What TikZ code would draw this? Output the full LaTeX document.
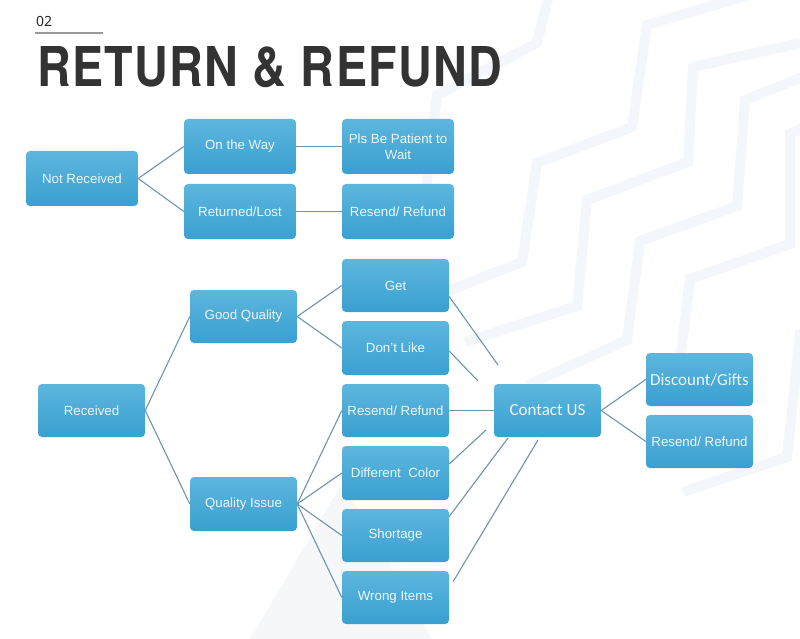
\documentclass[tikz,border=0pt]{standalone}
\usepackage{fontspec}
\usepackage{graphicx}
\setmainfont{Liberation Sans}
\newfontfamily\numfont{Noto Sans}
\newfontfamily\titlefont{TeX Gyre Heros}[LetterSpace=3]
\newfontfamily\calfont{Carlito}
\definecolor{boxtop}{HTML}{5DB6DE}
\definecolor{boxbot}{HTML}{39A0D0}
\definecolor{boxtext}{HTML}{EEF7FC}
\definecolor{edgecol}{HTML}{6F94AD}
\definecolor{bandcol}{HTML}{F3F6FA}
\definecolor{tricol}{HTML}{F6F7F9}
\definecolor{titlecol}{HTML}{333333}
\tikzset{
  box/.style={rounded corners=4pt, top color=boxtop, bottom color=boxbot,
    text=boxtext, font=\fontsize{13.3}{16}\selectfont, align=center,
    minimum width=107pt, minimum height=53pt, inner sep=1pt, draw=none},
  wide/.style={minimum width=112pt, minimum height=55pt},
  big/.style={font=\calfont\fontsize{17}{20}\selectfont},
  conn/.style={draw=edgecol, line width=1.1pt},
  band/.style={draw=bandcol, line width=10pt, line join=miter},
}
\begin{document}
\begin{tikzpicture}[x=1pt,y=-1pt]
\fill[white] (0,0) rectangle (800,639);
\useasboundingbox (0,0) rectangle (800,639);
% background decoration
\begin{scope}
\clip (0,0) rectangle (800,639);
\fill[tricol] (343,482) -- (432,639) -- (250,639) -- cycle;
\draw[band] (549,-5) -- (537,43) -- (437,95) -- (425,200);
\draw[band] (800,-20) -- (647,25) -- (632,127) -- (537,163) -- (522,262) -- (430,298);
\draw[band] (800,43) -- (693,67) -- (688,162) -- (587,200) -- (577,306) -- (465,342);
\draw[band] (810,74) -- (745,100) -- (737,206) -- (640,241) -- (627,340) -- (528,385);
\draw[band] (810,124) -- (790,134) -- (790,244) -- (690,279) -- (677,385) -- (660,392);
\draw[band] (810,330) -- (800,334) -- (787,457) -- (683,492);
\end{scope}
% header
\node[anchor=base west, inner sep=0pt, font=\numfont\fontsize{14}{16}\selectfont, text=black!85] (num) at (36,27) {02};
\coordinate (ulA) at (35,33);
\coordinate (ulB) at (103,33);
\draw[draw=black!40, line width=2pt] (ulA) -- (ulB);
\node[anchor=south west, inner sep=0pt, text=titlecol] (title) at (37,88)
  {\resizebox{465pt}{40pt}{\titlefont\bfseries RETURN \& REFUND}};
% top group
\node[box,wide] (nr) at (82,178.5) {Not Received};
\node[box,wide] (otw) at (240,146.5) {On the Way};
\node[box,wide] (rl) at (240,211.5) {Returned/Lost};
\node[box,wide] (pls) at (398,146.5) {Pls Be Patient to\\Wait};
\node[box,wide] (rr1) at (398,211.5) {Resend/ Refund};
% lower group
\node[box] (rec) at (91.5,410.5) {Received};
\node[box] (gq) at (243.5,316.5) {Good Quality};
\node[box, minimum height=54pt] (qi) at (243.5,504) {Quality Issue};
\node[box] (get) at (395.5,285.5) {Get};
\node[box, minimum height=54pt] (dl) at (395.5,348) {Don't Like};
\node[box] (rr2) at (395.5,410.5) {Resend/ Refund};
\node[box, minimum height=54pt] (dc) at (395.5,473) {Different\ \ Color};
\node[box] (sh) at (395.5,535.5) {Shortage};
\node[box] (wi) at (395.5,597.5) {Wrong Items};
\node[box,big] (ct) at (547.5,410.5) {Contact US};
\node[box,big] (dg) at (699.5,379.5) {Discount/Gifts};
\node[box] (rr3) at (699.5,441.5) {Resend/ Refund};
% free ends near Contact US
\coordinate (e1) at (498,365);
\coordinate (e2) at (478,381);
\coordinate (e4) at (486,430);
\coordinate (e5) at (508,438);
\coordinate (e6) at (538,440);
% connectors
\draw[conn] (nr.east) -- (otw.west);
\draw[conn] (nr.east) -- (rl.west);
\draw[conn] (otw.east) -- (pls.west);
\draw[conn] (rl.east) -- (rr1.west);
\draw[conn] (rec.east) -- (gq.west);
\draw[conn] (rec.east) -- (qi.west);
\draw[conn] (gq.east) -- (get.west);
\draw[conn] (gq.east) -- (dl.west);
\draw[conn] (qi.east) -- (rr2.west);
\draw[conn] (qi.east) -- (dc.west);
\draw[conn] (qi.east) -- (sh.west);
\draw[conn] (qi.east) -- (wi.west);
\draw[conn] ([yshift=-11pt]get.east) -- (e1);
\draw[conn] ([yshift=-3pt]dl.east) -- (e2);
\draw[conn] (rr2.east) -- (ct.west);
\draw[conn] ([yshift=9pt]dc.east) -- (e4);
\draw[conn] ([yshift=19pt]sh.east) -- (e5);
\draw[conn] ([xshift=4pt,yshift=16pt]wi.east) -- (e6);
\draw[conn] (ct.east) -- (dg.west);
\draw[conn] (ct.east) -- (rr3.west);
\end{tikzpicture}
\end{document}
